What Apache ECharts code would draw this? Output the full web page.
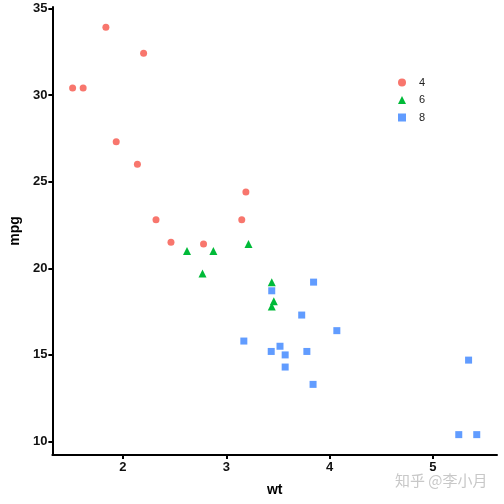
<!DOCTYPE html>
<html><head><meta charset="utf-8">
<script src="https://cdn.jsdelivr.net/npm/echarts@6/dist/echarts.min.js"></script>
<style>html,body{margin:0;padding:0;background:#fff}#c{width:504px;height:504px}</style>
</head><body><div id="c"></div>
<script>
// mtcars: wt vs mpg, grouped by cyl
const wt4 = [2.320, 3.190, 3.150, 2.200, 1.615, 1.835, 2.465, 1.935, 2.140, 1.513, 2.780];
const mpg4 = [22.8, 24.4, 22.8, 32.4, 30.4, 33.9, 21.5, 27.3, 26.0, 30.4, 21.4];
const wt6 = [2.620, 2.875, 3.215, 3.460, 3.440, 3.440, 2.770];
const mpg6 = [21.0, 21.0, 21.4, 18.1, 19.2, 17.8, 19.7];
const wt8 = [3.440, 3.570, 4.070, 3.730, 3.780, 5.250, 5.424, 5.345, 3.520, 3.435, 3.840, 3.845, 3.170, 3.570];
const mpg8 = [18.7, 14.3, 16.4, 17.3, 15.2, 10.4, 10.4, 14.7, 15.5, 15.2, 13.3, 19.2, 15.8, 15.0];
const groups = ['4', '6', '8'];
const xTicks = [2, 3, 4, 5];
const yTicks = [10, 15, 20, 25, 30, 35];

const colors = ['#F8766D', '#00BA38', '#619CFF'];
const symbols = ['circle', 'triangle', 'rect'];
const sizes = [7, 8, 7];
const xs = [wt4, wt6, wt8], ys = [mpg4, mpg6, mpg8];

const chart = echarts.init(document.getElementById('c'), null, {renderer: 'canvas'});
const axisCommon = {
  axisLine: {show: true, onZero: false, lineStyle: {color: '#000', width: 2}},
  axisTick: {show: true, length: 4, lineStyle: {color: '#000', width: 2}},
  splitLine: {show: false},
  axisLabel: {color: '#111', fontSize: 13, fontWeight: 'bold', fontFamily: 'Liberation Sans, Arial, sans-serif'},
  nameTextStyle: {color: '#000', fontSize: 14, fontWeight: 'bold', fontFamily: 'Liberation Sans, Arial, sans-serif'}
};
chart.setOption({
  animation: false,
  grid: {left: 49, right: 7, top: 7, bottom: 49, containLabel: false},
  xAxis: Object.assign({}, axisCommon, {
    type: 'value', min: 1.317, max: 5.62,
    name: 'wt', nameLocation: 'middle', nameGap: 28,
    axisTick: Object.assign({}, axisCommon.axisTick, {customValues: xTicks}),
    axisLabel: Object.assign({}, axisCommon.axisLabel, {customValues: xTicks, margin: 6})
  }),
  yAxis: Object.assign({}, axisCommon, {
    type: 'value', min: 9.225, max: 35.075,
    name: 'mpg', nameLocation: 'middle', nameGap: 30, nameRotate: 90,
    axisTick: Object.assign({}, axisCommon.axisTick, {customValues: yTicks}),
    axisLabel: Object.assign({}, axisCommon.axisLabel, {customValues: yTicks, margin: 5})
  }),
  legend: {
    orient: 'vertical', left: 393, top: 72, itemGap: 6.5,
    itemWidth: 8, itemHeight: 8,
    textStyle: {fontSize: 11, color: '#222', fontFamily: 'Liberation Sans, Arial, sans-serif', padding: [0, 0, 0, 8]},
    data: groups.map((g, i) => ({name: g, icon: symbols[i], itemStyle: {color: colors[i]}}))
  },
  graphic: [{
    type: 'text', left: 395, top: 473,
    style: {text: '知乎 @李小月', fill: '#c8c8c8', fontSize: 15, fontFamily: 'Noto Sans CJK SC, sans-serif'}
  }],
  series: groups.map((g, i) => ({
    name: g, type: 'scatter', symbol: symbols[i], symbolSize: sizes[i],
    itemStyle: {color: colors[i], opacity: 1},
    data: xs[i].map((x, j) => [x, ys[i][j]])
  }))
});
</script></body></html>
